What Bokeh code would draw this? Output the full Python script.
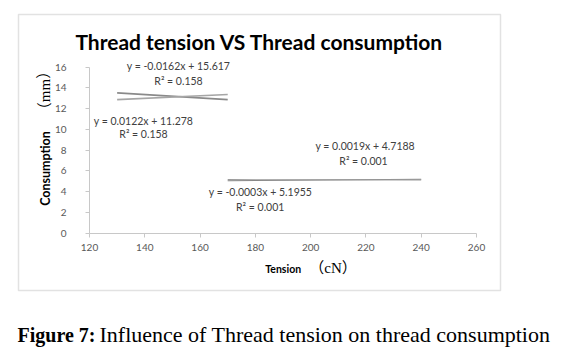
from bokeh.plotting import figure
from bokeh.models import Range1d, Label, BoxAnnotation, FixedTicker
from bokeh.embed import file_html
from bokeh.resources import INLINE

# ---- data ----
x_ticks = [120, 140, 160, 180, 200, 220, 240, 260]
y_ticks = [0, 2, 4, 6, 8, 10, 12, 14, 16]

# trend lines (tension range, consumption at ends)
trend_a_x = [130, 170]
trend_a_y = [13.51, 12.86]
trend_b_x = [130, 170]
trend_b_y = [12.86, 13.35]
trend_c_x = [170, 240]
trend_c_y = [5.04, 5.18]
trend_d_x = [170, 240]
trend_d_y = [5.14, 5.12]

eq_texts = ["y = -0.0162x + 15.617", "y = 0.0122x + 11.278",
            "y = 0.0019x + 4.7188", "y = -0.0003x + 5.1955"]
r2_texts = ["R² = 0.158", "R² = 0.158", "R² = 0.001", "R² = 0.001"]

title_text = "Thread tension VS Thread consumption"
x_label_main, x_label_unit = "Tension", "（cN）"
y_label_main, y_label_unit = "Consumption", "（mm）"
caption_bold = "Figure 7:"
caption_rest = "Influence of Thread tension on thread consumption"

# ---- layout: plot area 120..260 -> px 89..476, 0..16 -> px 232.5..66.5 ----
W, H = 567, 351
PX_L, PX_R, PY_T, PY_B = 89.0, 476.0, 66.5, 232.5
kx = (PX_R - PX_L) / (x_ticks[-1] - x_ticks[0])
ky = (PY_B - PY_T) / (y_ticks[-1] - y_ticks[0])
x0 = x_ticks[0] - PX_L / kx
x1 = x_ticks[-1] + (W - PX_R) / kx
y0 = y_ticks[0] - (H - PY_B) / ky
y1 = y_ticks[-1] + PY_T / ky

def dx(px):
    return x0 + px / kx

def dy(py):
    return y1 - py / ky

p = figure(width=W, height=H, output_backend="svg", toolbar_location=None,
           x_range=Range1d(x0, x1), y_range=Range1d(y0, y1),
           min_border_left=0, min_border_right=0, min_border_top=0, min_border_bottom=0)
p.outline_line_color = None
p.grid.visible = False
p.background_fill_color = "white"
p.border_fill_color = "white"

xa, ya = p.xaxis[0], p.yaxis[0]
xa.fixed_location = y_ticks[0]
ya.fixed_location = x_ticks[0]
xa.bounds = (x_ticks[0], x_ticks[-1])
ya.bounds = (y_ticks[0], y_ticks[-1])
for ax in (xa, ya):
    ax.axis_line_color = "#c8c8c8"
    ax.major_tick_line_color = "#c8c8c8"
    ax.minor_tick_line_color = None
    ax.major_tick_in = 0
    ax.major_tick_out = 4
    ax.major_label_text_font = "Lato"
    ax.major_label_text_font_size = "10px"
    ax.major_label_text_color = "#595959"
    ax.major_label_orientation = "horizontal"
xa.ticker = FixedTicker(ticks=x_ticks)
ya.ticker = FixedTicker(ticks=y_ticks)
xa.major_label_standoff = 7
ya.major_label_standoff = 19

p.line(trend_a_x, trend_a_y, line_color="#8a8a8a", line_width=1.6)
p.line(trend_b_x, trend_b_y, line_color="#a6a6a6", line_width=1.6)
p.line(trend_c_x, trend_c_y, line_color="#808080", line_width=1.1)
p.line(trend_d_x, trend_d_y, line_color="#9a9a9a", line_width=1.1)

# equation label positions (pixels)
eq_px = [(178, 65), (143, 120), (364.7, 145), (260, 191.7)]
r2_px = [(178, 80.7), (143, 133), (363, 160), (259.7, 206.7)]
for (x, y), t in zip(eq_px + r2_px, eq_texts + r2_texts):
    p.add_layout(Label(x=dx(x), y=dy(y), text=t, text_align="center", text_baseline="middle",
                       text_font="Lato", text_font_size="10.5px", text_color="#404040"))

# outer chart box
p.add_layout(BoxAnnotation(left=dx(18), right=dx(500), top=dy(14), bottom=dy(290),
                           fill_alpha=0, line_color="#a0a0a0", line_width=1.5))

def lab(x, y, text, **kw):
    p.add_layout(Label(x=dx(x), y=dy(y), text=text, **kw))

serif_cjk = "'Liberation Serif', 'Noto Sans CJK SC'"
lab(259, 41, title_text, text_align="center", text_baseline="middle",
    text_font="Lato", text_font_style="bold", text_font_size="21px", text_color="#000000")
lab(282.7, 268, x_label_main, text_align="center", text_baseline="middle",
    text_font="Lato", text_font_style="bold", text_font_size="10.5px", text_color="#000000")
lab(332.5, 267, x_label_unit, text_align="center", text_baseline="middle",
    text_font=serif_cjk, text_font_size="15px", text_color="#000000")
lab(45, 168, y_label_main, text_align="center", text_baseline="middle", angle=1.5708,
    text_font="Lato", text_font_style="bold", text_font_size="12.5px", text_color="#000000")
lab(44, 90, y_label_unit, text_align="center", text_baseline="middle", angle=1.5708,
    text_font=serif_cjk, text_font_size="15px", text_color="#000000")
lab(17, 334, caption_bold, text_align="left", text_baseline="middle",
    text_font="Liberation Serif", text_font_style="bold", text_font_size="20px", text_color="#000000")
lab(99, 334, caption_rest, text_align="left", text_baseline="middle",
    text_font="Liberation Serif", text_font_size="22px", text_color="#000000")

open("out.html", "w").write(file_html(p, INLINE))
